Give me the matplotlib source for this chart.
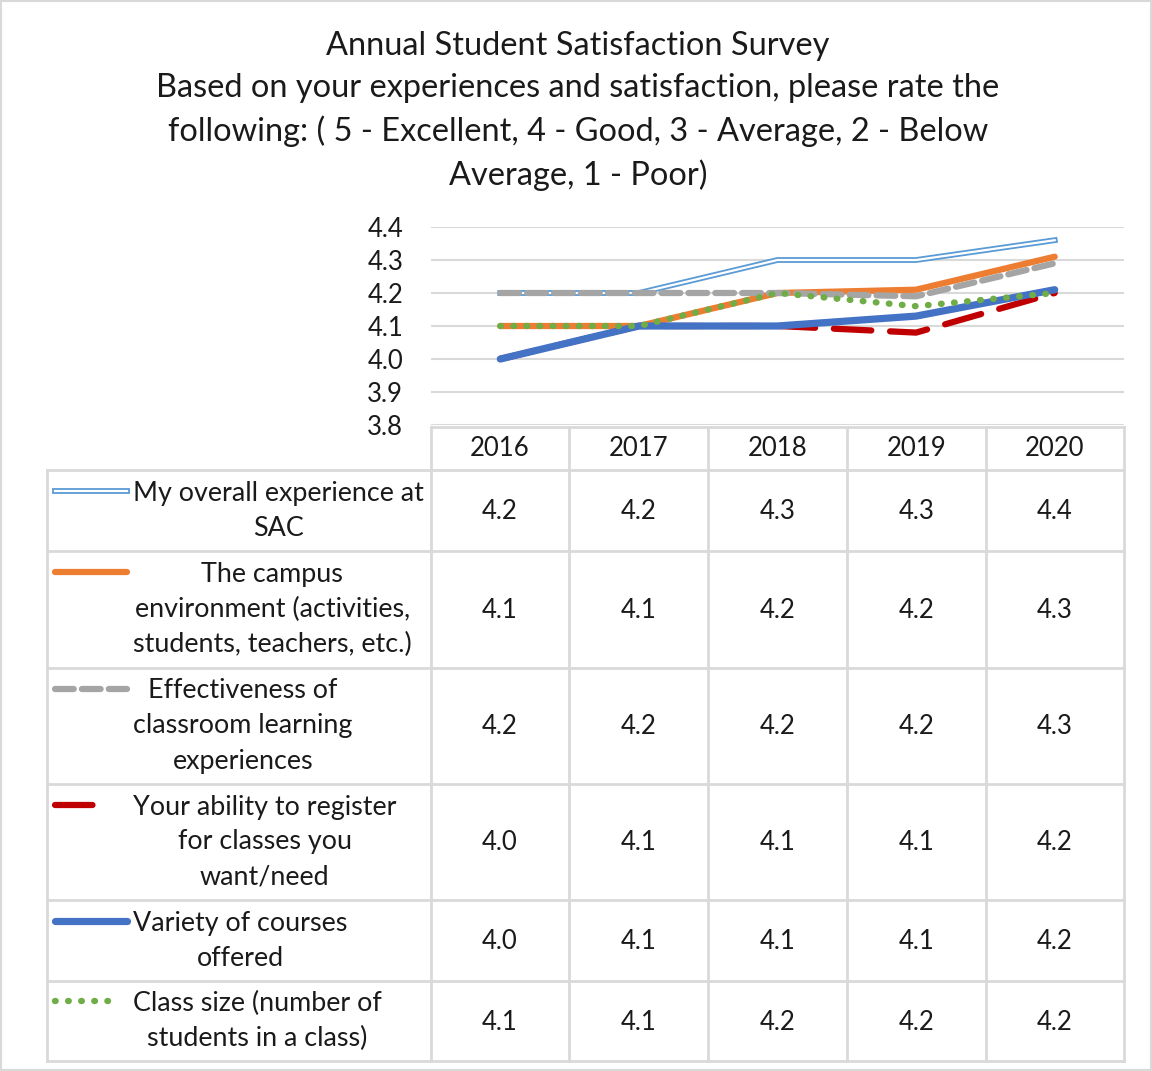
import numpy as np
import matplotlib.pyplot as plt

plt.rcParams['font.family'] = ['Lato', 'DejaVu Sans']

#Data
years = ["2016", "2017", "2018", "2019", "2020"]
labels = ["My overall experience at\nSAC",
          "The campus\nenvironment (activities,\nstudents, teachers, etc.)",
          "Effectiveness of\nclassroom learning\nexperiences",
          "Your ability to register\nfor classes you\nwant/need",
          "Variety of courses\noffered",
          "Class size (number of\nstudents in a class)"]
overall = [4.2, 4.2, 4.3, 4.3, 4.36]
campus = [4.1, 4.1, 4.2, 4.21, 4.31]
effective = [4.2, 4.2, 4.2, 4.19, 4.29]
register = [4.0, 4.1, 4.1, 4.08, 4.2]
variety = [4.0, 4.1, 4.1, 4.13, 4.21]
classsize = [4.1, 4.1, 4.2, 4.16, 4.2]
yticks = [3.8, 3.9, 4.0, 4.1, 4.2, 4.3, 4.4]

series = [overall, campus, effective, register, variety, classsize]

W, H = 1152, 1071
txt = '#1a1a1a'
grid = '#d9d9d9'

fig = plt.figure(figsize=(W / 100, H / 100), dpi=100)

#background axes in pixel coords
bg = fig.add_axes([0, 0, 1, 1])
bg.set_xlim(0, W)
bg.set_ylim(H, 0)
bg.axis('off')
bg.add_patch(plt.Rectangle((1, 1), W - 2, H - 2, fill=False, ec=grid, lw=1.5))

#title
title = ("Annual Student Satisfaction Survey\n"
         "Based on your experiences and satisfaction, please rate the\n"
         "following: ( 5 - Excellent, 4 - Good, 3 - Average, 2 - Below\n"
         "Average, 1 - Poor)")
bg.text(578, 111, title, ha='center', va='center', fontsize=23.4, color=txt, linespacing=1.48)

#line chart
x0, x1 = 431, 1124
ytop, ybot = 227, 425
ax = fig.add_axes([x0 / W, 1 - ybot / H, (x1 - x0) / W, (ybot - ytop) / H])
ax.set_xlim(-0.5, 4.5)
ax.set_ylim(3.8, 4.4)
ax.set_yticks(yticks)
ax.set_yticklabels(["%.1f" % v for v in yticks])
ax.set_xticks([])
ax.grid(axis='y', color=grid, lw=1.5)
ax.set_axisbelow(True)
for s in ax.spines.values():
    s.set_visible(False)
ax.tick_params(axis='y', length=0, labelsize=18.5, labelcolor=txt, pad=20)
ax.patch.set_alpha(0)

xs = np.arange(len(years))
styles = [
    dict(color='#5B9BD5', lw=4.2),
    dict(color='#ED7D31', lw=4.5, solid_capstyle='round'),
    dict(color='#A5A5A5', lw=4.5, ls=(0, (3, 1.3)), dash_capstyle='round'),
    dict(color='#C00000', lw=4.5, ls=(0, (6, 3)), dash_capstyle='round'),
    dict(color='#4472C4', lw=5.2, solid_capstyle='round'),
    dict(color='#70AD47', lw=4.6, ls=(0, (0.1, 1.95)), dash_capstyle='round'),
]
for i, vals in enumerate(series):
    ax.plot(xs, vals, **styles[i], zorder=3 + i)
    if i == 0:
        ax.plot(xs, vals, color='white', lw=1.6, zorder=3.5)

#table
cols = [431, 569, 708, 847, 986, 1124]
rows = [470, 551, 668, 784, 900, 981, 1061]
lk = dict(color=grid, lw=2)
bg.plot([cols[0], cols[-1]], [427, 427], **lk)
for r in rows:
    bg.plot([47, cols[-1]], [r, r], **lk)
for c in cols:
    bg.plot([c, c], [427, rows[-1]], **lk)
bg.plot([47, 47], [rows[0], rows[-1]], **lk)

for j, yr in enumerate(years):
    cx = (cols[j] + cols[j + 1]) / 2
    bg.text(cx, 448, yr, ha='center', va='center', fontsize=18.5, color=txt)

key_len = [72, 72, 72, 49, 72, 65]
for i, vals in enumerate(series):
    top, bot = rows[i], rows[i + 1]
    cy = (top + bot) / 2
    nlines = labels[i].count("\n") + 1
    first = cy - (nlines - 1) * 35.5 / 2
    bg.text(133, cy, labels[i], ha='left', va='center', multialignment='center',
            fontsize=19.4, color=txt, linespacing=1.5)
    st = dict(styles[i])
    bg.plot([55, 55 + key_len[i]], [first - 2, first - 2], **st)
    if i == 0:
        bg.plot([55, 55 + key_len[i]], [first - 2, first - 2], color='white', lw=1.6)
    for j in range(len(years)):
        cx = (cols[j] + cols[j + 1]) / 2
        bg.text(cx, cy + 1, "%.1f" % round(vals[j], 1), ha='center', va='center',
                fontsize=18.5, color=txt)

fig.savefig("out.png", dpi=100)
